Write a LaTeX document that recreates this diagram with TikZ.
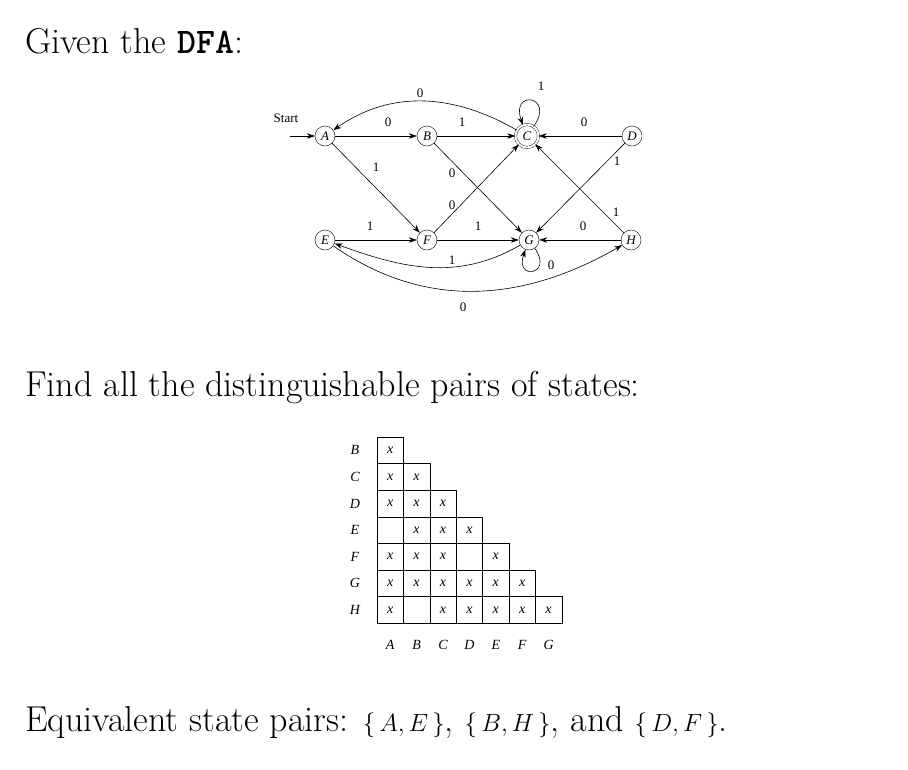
\documentclass[tikz,border=0pt]{standalone}
\usepackage{fontspec}
\newfontfamily\tms{Liberation Serif}
\usetikzlibrary{arrows.meta}
\begin{document}
\begin{tikzpicture}[x=1pt,y=-1pt,
 st/.style={circle,draw,inner sep=0pt,minimum size=20pt,font=\tms\fontsize{13}{13}\selectfont\itshape},
 lb/.style={font=\tms\fontsize{13}{13}\selectfont},
 ar/.style={-{Stealth[length=8pt,width=5.5pt]},line width=0.6pt},
 big/.style={font=\fontsize{36}{40}\selectfont,anchor=base west,inner sep=0pt},
 cell/.style={draw,line width=0.6pt},
 xm/.style={font=\tms\fontsize{14}{14}\selectfont\itshape}]
\useasboundingbox (0,0) rectangle (908,769);
\node[big] (t1) at (25,53) {Given the \texttt{\bfseries DFA}:};
\node[big] (t2) at (25,396) {Find all the distinguishable pairs of states:};
\node[big] (t3) at (25,731) {Equivalent state pairs: $\big\{\,A,E\,\big\}$, $\big\{\,B,H\,\big\}$, and $\big\{\,D,F\,\big\}$.};
% DFA
\node[st] (A) at (325,136) {A};
\node[st] (B) at (427,136) {B};
\node[st,double,double distance=2pt,minimum size=23pt] (C) at (527,136) {C};
\node[st] (D) at (632,136) {D};
\node[st] (E) at (325,240) {E};
\node[st] (F) at (427,240) {F};
\node[st] (G) at (529,240) {G};
\node[st] (H) at (631,240) {H};
\coordinate (s) at (290,136);
\node[lb] (start) at (286,118) {Start};
\draw[ar] (s) -- (A);
\draw[ar] (A) -- (B);
\draw[ar] (B) -- (C);
\draw[ar] (D) -- (C);
\draw[ar] (C) to[out=150,in=35] (A);
\draw[ar] (C) to[out=55,in=110,looseness=9] (C);
\draw[ar] (A) -- (F);
\draw[ar] (B) -- (G);
\draw[ar] (F) -- (C);
\draw[ar] (D) -- (G);
\draw[ar] (H) -- (C);
\draw[ar] (E) -- (F);
\draw[ar] (F) -- (G);
\draw[ar] (H) -- (G);
\draw[ar] (G) to[out=-150,in=-20] (E);
\draw[ar] (G) to[out=-55,in=-110,looseness=9] (G);
\draw[ar] (E) to[out=-35,in=-150] (H);
\node[lb] at (420,93) {0};
\node[lb] at (541,86) {1};
\node[lb] at (388,122) {0};
\node[lb] at (462,122) {1};
\node[lb] at (584,122) {0};
\node[lb] at (376,167) {1};
\node[lb] at (452,173) {0};
\node[lb] at (452,205) {0};
\node[lb] at (617,161) {1};
\node[lb] at (616,212) {1};
\node[lb] at (370,226) {1};
\node[lb] at (478,226) {1};
\node[lb] at (583,226) {0};
\node[lb] at (452,260) {1};
\node[lb] at (551,265) {0};
\node[lb] at (463,307) {0};
% table
\foreach \r/\n in {1/B,2/C,3/D,4/E,5/F,6/G,7/H}{
  \node[xm] at (355,{437+26.6*(\r-0.5)}) {\n};
  \foreach \c in {1,...,\r}{
    \draw[cell] ({377+26.4*(\c-1)},{437+26.6*(\r-1)}) rectangle ++(26.4,26.6);
  }
}
\foreach \c/\n in {1/A,2/B,3/C,4/D,5/E,6/F,7/G}{
  \node[xm] at ({377+26.4*(\c-0.5)},645) {\n};
}
\foreach \r/\c in {1/1,2/1,2/2,3/1,3/2,3/3,4/2,4/3,4/4,5/1,5/2,5/3,5/5,6/1,6/2,6/3,6/4,6/5,6/6,7/1,7/3,7/4,7/5,7/6,7/7}{
  \node[xm] at ({377+26.4*(\c-0.5)},{437+26.6*(\r-0.5)}) {x};
}
\end{tikzpicture}
\end{document}
